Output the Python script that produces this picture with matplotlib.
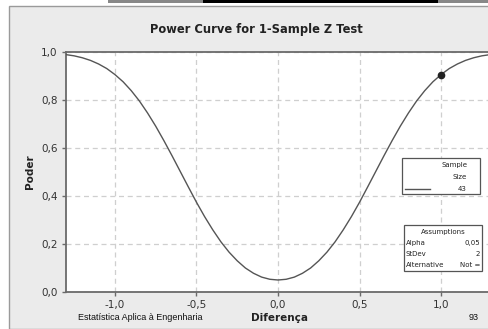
import matplotlib
matplotlib.use("Agg")
import matplotlib.pyplot as plt
from matplotlib.patches import Rectangle
from matplotlib.lines import Line2D

# Data
diff = [-1.30, -1.25, -1.20, -1.15, -1.10, -1.05, -1.00, -0.95, -0.90, -0.85,
        -0.80, -0.75, -0.70, -0.65, -0.60, -0.55, -0.50, -0.45, -0.40, -0.35,
        -0.30, -0.25, -0.20, -0.15, -0.10, -0.05, 0.00, 0.05, 0.10, 0.15,
        0.20, 0.25, 0.30, 0.35, 0.40, 0.45, 0.50, 0.55, 0.60, 0.65,
        0.70, 0.75, 0.80, 0.85, 0.90, 0.95, 1.00, 1.05, 1.10, 1.15,
        1.20, 1.25, 1.30]
power_half = [0.989, 0.984, 0.976, 0.965, 0.950, 0.931, 0.906, 0.876, 0.839, 0.796,
              0.746, 0.691, 0.631, 0.568, 0.503, 0.438, 0.374, 0.314, 0.259, 0.209,
              0.166, 0.130, 0.100, 0.078, 0.062, 0.053]
power = power_half + [0.050] + power_half[::-1]

marked_diff = [1.0]
marked_power = [0.906]

xticks = [-1.0, -0.5, 0.0, 0.5, 1.0]
xticklabels = ["-1,0", "-0,5", "0,0", "0,5", "1,0"]
yticks = [0.0, 0.2, 0.4, 0.6, 0.8, 1.0]
yticklabels = ["0,0", "0,2", "0,4", "0,6", "0,8", "1,0"]

legend_title = ["Sample", "Size"]
sample_size = "43"
assump_labels = ["Alpha", "StDev", "Alternative"]
assump_values = ["0,05", "2", "Not ="]

W, H = 488, 329
fig = plt.figure(figsize=(W / 100, H / 100), dpi=100)
fig.patch.set_facecolor("white")

def fx(px):
    return px / W

def fy(py):
    return 1 - py / H

# gray panel
fig.patches.append(Rectangle((fx(9), 0), 1, fy(6), transform=fig.transFigure,
                             facecolor="#ebebeb", edgecolor="#9a9a9a", lw=1, zorder=0))
# top bars
fig.patches.append(Rectangle((fx(108), fy(2.5)), fx(380), 2.5 / H, transform=fig.transFigure,
                             facecolor="#888888", edgecolor="none", zorder=0))
fig.patches.append(Rectangle((fx(203), fy(2.5)), fx(235), 2.5 / H, transform=fig.transFigure,
                             facecolor="#000000", edgecolor="none", zorder=1))

ax = fig.add_axes([fx(66), fy(292), fx(424), 240 / H])
ax.set_zorder(2)
ax.set_facecolor("white")
ax.plot(diff, power, color="#555555", lw=1.0, zorder=3)
ax.plot(marked_diff, marked_power, "o", color="#222222", ms=4.5, zorder=4)
ax.set_xlim(-1.3, 1.3)
ax.set_ylim(0, 1.0)
ax.set_xticks(xticks)
ax.set_xticklabels(xticklabels)
ax.set_yticks(yticks)
ax.set_yticklabels(yticklabels)
ax.grid(True, color="#cfcfcf", ls=(0, (4, 3)), lw=0.9)
ax.set_axisbelow(True)
for s in ["left", "bottom", "top"]:
    ax.spines[s].set_color("#6a6a6a")
    ax.spines[s].set_linewidth(1.3)
ax.spines["right"].set_visible(False)
ax.tick_params(axis="both", colors="#6a6a6a", labelcolor="#333333", length=3,
               width=1, labelsize=7.5, pad=3)

fig.text(fx(256), fy(30), "Power Curve for 1-Sample Z Test", ha="center", va="center",
         fontsize=8.3, fontweight="bold", color="#222222")
fig.text(fx(30), fy(172), "Poder", ha="center", va="center", rotation=90,
         fontsize=7.5, fontweight="bold", color="#222222")
fig.text(fx(279), fy(318), "Diferença", ha="center", va="center",
         fontsize=7.5, fontweight="bold", color="#222222")
fig.text(fx(78), fy(318), "Estatística Aplica à Engenharia", ha="left", va="center",
         fontsize=6.5, family="Liberation Sans", color="#111111")
fig.text(fx(479), fy(318), "93", ha="right", va="center",
         fontsize=6.5, family="Liberation Sans", color="#111111")

# Legend box
fig.patches.append(Rectangle((fx(402), fy(194)), fx(78), 36 / H, transform=fig.transFigure,
                             facecolor="white", edgecolor="#555555", lw=0.9, zorder=5))
fig.text(fx(467), fy(165), legend_title[0], ha="right", va="center", fontsize=5,
         color="#222222", zorder=6)
fig.text(fx(467), fy(177), legend_title[1], ha="right", va="center", fontsize=5,
         color="#222222", zorder=6)
fig.lines.append(Line2D([fx(405), fx(430)], [fy(189), fy(189)], transform=fig.transFigure,
                        color="#555555", lw=1.0, zorder=6))
fig.text(fx(467), fy(189), sample_size, ha="right", va="center", fontsize=5,
         color="#222222", zorder=6)

# Assumptions box
fig.patches.append(Rectangle((fx(404), fy(271)), fx(78), 46 / H, transform=fig.transFigure,
                             facecolor="white", edgecolor="#555555", lw=0.9, zorder=5))
fig.text(fx(443), fy(232), "Assumptions", ha="center", va="center", fontsize=5,
         color="#222222", zorder=6)
for i, (lab, val) in enumerate(zip(assump_labels, assump_values)):
    yy = 243 + i * 11
    fig.text(fx(406), fy(yy), lab, ha="left", va="center", fontsize=5,
             color="#222222", zorder=6)
    fig.text(fx(480), fy(yy), val, ha="right", va="center", fontsize=5,
             color="#222222", zorder=6)

fig.savefig("out.png", dpi=100)
